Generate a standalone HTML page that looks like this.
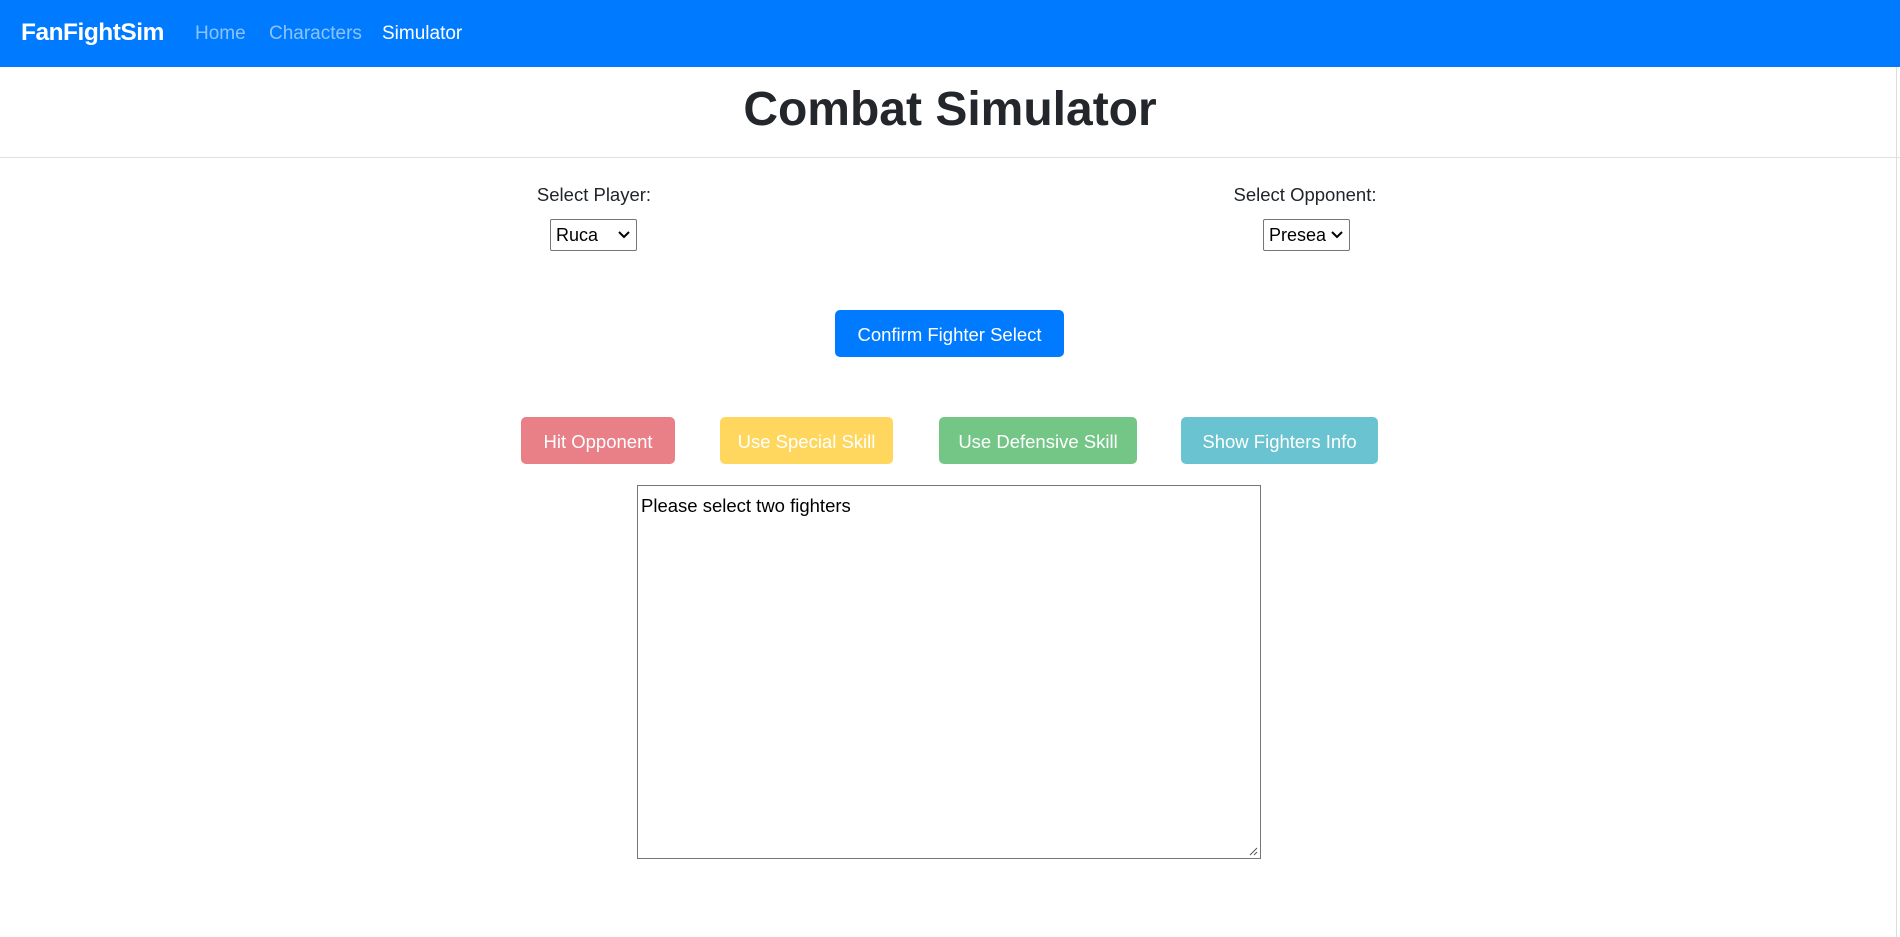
<!DOCTYPE html>
<html><head><meta charset="utf-8"><style>
*{box-sizing:border-box;margin:0;padding:0}
body{width:1900px;height:937px;background:#fff;font-family:"Liberation Sans",sans-serif;color:#212529;position:relative;overflow:hidden}
.nav{position:absolute;left:0;top:0;width:1900px;height:67px;background:#007bff}
.nav span{position:absolute;top:23px;font-size:19px;color:rgba(255,255,255,.55);white-space:nowrap}
.nav .brand{left:21px;top:19px;font-size:24.5px;font-weight:bold;color:#fff;letter-spacing:-0.5px}
.abs{position:absolute;white-space:nowrap}
.btn{position:absolute;border-radius:5px;color:#fff;font-size:18.5px;display:flex;align-items:center;justify-content:center;white-space:nowrap;padding-top:2px}
.sel{position:absolute;border:1px solid #767676;border-radius:2px;background:#fff;font-size:18px;color:#000;padding-left:5px;display:flex;align-items:center}
.sel svg{position:absolute;right:6px;top:11px}
</style></head><body>
<div class="nav">
<span class="brand">FanFightSim</span>
<span style="left:195px">Home</span>
<span style="left:269px">Characters</span>
<span style="left:382px;color:#fff">Simulator</span>
</div>
<div class="abs" style="left:0;width:1900px;top:82px;text-align:center;font-size:48px;font-weight:bold;color:#23272b">Combat Simulator</div>
<div class="abs" style="left:0;top:157px;width:1900px;height:1px;background:#e0e0e0"></div>
<div class="abs" style="left:1896px;top:67px;width:1px;height:870px;background:#ddd"></div>
<div class="abs" style="left:494px;width:200px;text-align:center;top:184px;font-size:18.5px">Select Player:</div>
<div class="sel" style="left:550px;top:219px;width:87px;height:32px">Ruca<svg width="12" height="8"><path d="M1 1l5 5 5-5" stroke="#000" stroke-width="2" fill="none"/></svg></div>
<div class="abs" style="left:1205px;width:200px;text-align:center;top:184px;font-size:18.5px">Select Opponent:</div>
<div class="sel" style="left:1263px;top:219px;width:87px;height:32px">Presea<svg width="12" height="8"><path d="M1 1l5 5 5-5" stroke="#000" stroke-width="2" fill="none"/></svg></div>
<div class="btn" style="left:835px;top:310px;width:229px;height:47px;background:#007bff">Confirm Fighter Select</div>
<div class="btn" style="left:521px;top:417px;width:154px;height:47px;background:#e97f87">Hit Opponent</div>
<div class="btn" style="left:720px;top:417px;width:173px;height:47px;background:#ffd75f">Use Special Skill</div>
<div class="btn" style="left:939px;top:417px;width:198px;height:47px;background:#74c686">Use Defensive Skill</div>
<div class="btn" style="left:1181px;top:417px;width:197px;height:47px;background:#6ac3d0">Show Fighters Info</div>
<div class="abs" style="left:637px;top:485px;width:624px;height:374px;border:1px solid #767676;font-size:18.5px;color:#000;padding:9px 3px">Please select two fighters
<svg style="position:absolute;right:2px;bottom:2px" width="10" height="10"><path d="M9 2L2 9M9 6L6 9" stroke="#555" stroke-width="1"/></svg></div>
</body></html>
